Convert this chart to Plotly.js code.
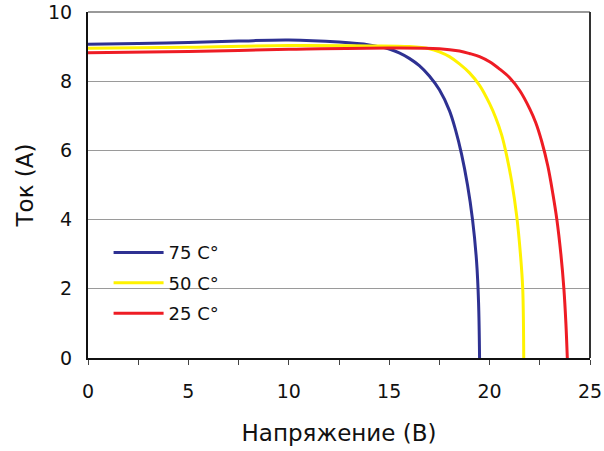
<!DOCTYPE html>
<html>
<head>
<meta charset="utf-8">
<script src="https://cdn.plot.ly/plotly-3.0.1.min.js"></script>
<style>html,body{margin:0;padding:0;background:#fff;}#chart{width:604px;height:451px;}</style>
</head>
<body>
<div id="chart"></div>
<script>
// Series: voltage (V) and current (A) readings per temperature
const v75 = [0, 2.5, 5, 7.5, 10, 12.5, 14, 15, 15.5, 16, 16.5, 17, 17.5, 18, 18.3, 18.6, 18.9, 19.15, 19.35, 19.45, 19.5];
const i75 = [9.07, 9.09, 9.12, 9.16, 9.19, 9.13, 9.05, 8.93, 8.82, 8.66, 8.45, 8.15, 7.75, 7.15, 6.6, 5.9, 5.0, 4.0, 2.8, 1.6, 0];

const v50 = [0, 5, 10, 14, 16, 17, 17.5, 18, 18.5, 19, 19.5, 20, 20.3, 20.6, 20.85, 21.1, 21.35, 21.55, 21.65, 21.7];
const i50 = [8.95, 8.98, 9.03, 9.02, 9.0, 8.94, 8.85, 8.71, 8.5, 8.24, 7.88, 7.35, 6.95, 6.45, 5.85, 5.1, 4.1, 2.9, 2.0, 0];

const v25 = [0, 5, 10, 15, 17.5, 18.5, 19, 19.5, 20, 20.5, 21, 21.5, 22, 22.3, 22.6, 22.9, 23.15, 23.35, 23.55, 23.7, 23.8, 23.87];
const i25 = [8.82, 8.86, 8.92, 8.96, 8.94, 8.87, 8.8, 8.71, 8.56, 8.35, 8.1, 7.73, 7.2, 6.8, 6.25, 5.55, 4.75, 4.0, 3.0, 2.0, 1.0, 0];

const seriesNames = ['75 C°', '50 C°', '25 C°'];
const seriesColors = ['#2e3192', '#fff200', '#ee1c24'];

const xTickVals = [0, 5, 10, 15, 20, 25];
const yTickVals = [0, 2, 4, 6, 8, 10];
const xTitle = 'Напряжение (В)';
const yTitle = 'Ток (А)';

const FONT = 'DejaVu Sans, Verdana, sans-serif';

const xs = [v75, v50, v25];
const ys = [i75, i50, i25];
const traces = xs.map((x, k) => ({
  x: x, y: ys[k], type: 'scatter', mode: 'lines', name: seriesNames[k],
  legendgroup: 'g' + k,
  line: {color: seriesColors[k], width: 3, shape: 'spline', smoothing: 1}
}));

const layout = {
  width: 604, height: 451,
  margin: {l: 88, r: 14, t: 12, b: 93},
  paper_bgcolor: '#fff', plot_bgcolor: '#fff',
  font: {family: FONT, color: '#111'},
  showlegend: true,
  legend: {
    x: 0.041, y: 0.216, xanchor: 'left', yanchor: 'middle',
    bgcolor: 'rgba(0,0,0,0)', font: {size: 18, color: '#111', family: FONT},
    tracegroupgap: 4, itemwidth: 50
  },
  xaxis: {
    range: [0, 25], tickmode: 'array', tickvals: xTickVals,
    ticks: 'outside', ticklen: 5, tickcolor: '#444', tickwidth: 1,
    minor: {dtick: 2.5, tick0: 0, ticks: 'outside', ticklen: 5, tickcolor: '#444', tickwidth: 1},
    showgrid: false, zeroline: false,
    showline: true, linecolor: '#111', linewidth: 2,
    tickfont: {size: 19, color: '#111', family: FONT},
    ticklabelstandoff: 10,
    title: {text: xTitle, font: {size: 23, color: '#111', family: FONT}, standoff: 24}
  },
  yaxis: {
    range: [0, 10], tickmode: 'array', tickvals: yTickVals,
    ticks: '', showgrid: true, gridcolor: '#9a9a9a', gridwidth: 1,
    zeroline: false, showline: true, linecolor: '#111', linewidth: 2,
    tickfont: {size: 19, color: '#111', family: FONT},
    ticklabelstandoff: 10,
    title: {text: yTitle, font: {size: 23, color: '#111', family: FONT}, standoff: 8}
  },
  shapes: [
    {type: 'line', xref: 'paper', yref: 'paper', x0: 0, x1: 1, y0: 1, y1: 1, line: {color: '#777', width: 1.5}},
    {type: 'line', xref: 'paper', yref: 'paper', x0: 1, x1: 1, y0: 0, y1: 1, line: {color: '#333', width: 2}}
  ]
};

Plotly.newPlot('chart', traces, layout, {displayModeBar: false, staticPlot: true});
</script>
</body>
</html>
